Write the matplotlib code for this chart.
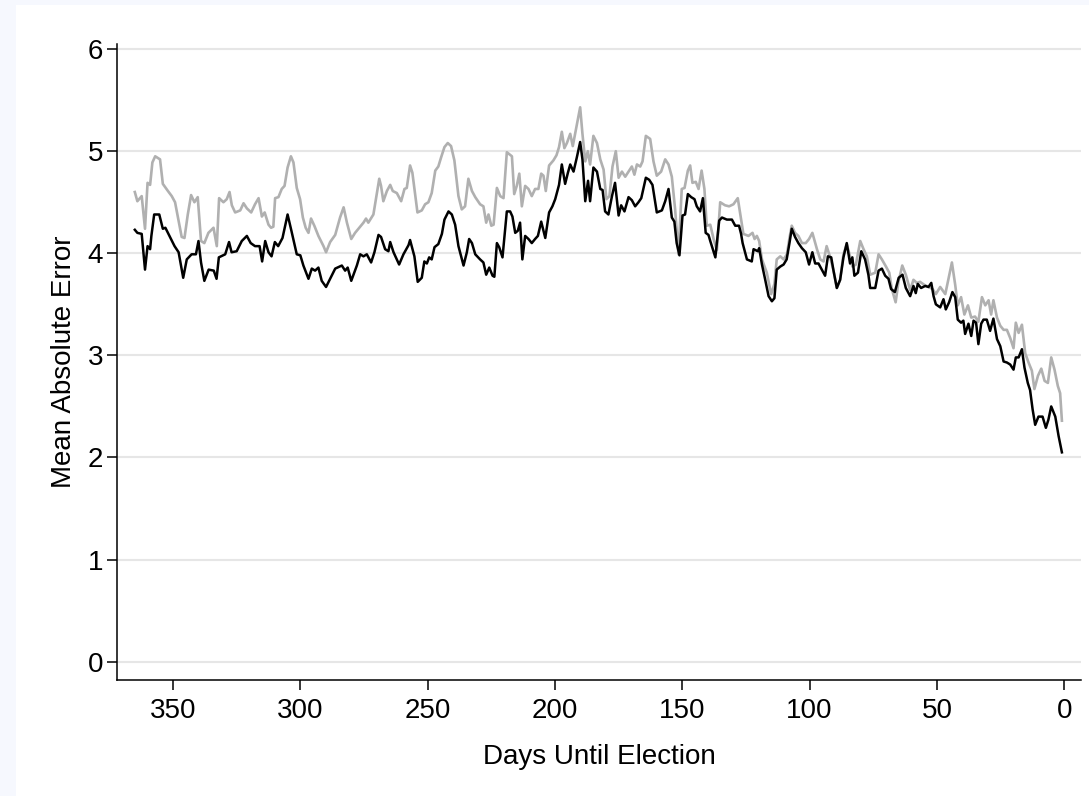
import matplotlib
matplotlib.use("Agg")
import matplotlib.pyplot as plt
from matplotlib.patches import Rectangle

# values (days until election, mean absolute error)
days_black = [365, 364, 362.3, 361, 360, 359, 358.5, 357.4, 355.4, 354, 353, 351.4, 349.4, 347.8, 346, 344.6,
              342.7, 341, 340, 339, 337.7, 336, 334, 332.9, 332, 329.5, 328, 327, 325, 323, 321, 319.5,
              317.8, 316, 315, 313.8, 312.5, 311.3, 310, 308.7, 307, 305, 303.5, 301.4, 300, 298.8, 296.8,
              295.5, 294.2, 292.9, 291.6, 289.9, 288.3, 286.3, 283.7, 282.4, 281.4, 280, 277.8, 276.5, 275.2,
              273.9, 272.2, 270.9, 269.3, 268.3, 266.7, 265.4, 264.7, 263.4, 261.2, 259.5, 257.5, 256.9,
              255.2, 253.9, 252.3, 251.3, 250.3, 249.4, 248.4, 247.3, 245.8, 244.4, 243.4, 241.8, 240.5,
              239.2, 237.9, 235.9, 234.6, 233.7, 232.6, 231.3, 229.4, 228.1, 227, 225.8, 224.5, 223.8, 222.8,
              221.9, 220.6, 218.9, 217.6, 216.7, 215.6, 214.6, 213.7, 212.8, 211.7, 210.4, 209.1, 207.8,
              206.7, 205.4, 203.8, 202.3, 201, 199.9, 198.4, 197.3, 196, 194.9, 194, 192.7, 191.4, 190.1,
              189.2, 188.1, 187, 186.2, 184.9, 183.5, 182.2, 181.3, 180.3, 179, 177.6, 176.4, 175, 174,
              172.7, 171.1, 169.8, 168.5, 167.2, 166.1, 164.3, 163, 161.7, 160, 158, 156.7, 155.4, 154.1,
              153.1, 152.2, 151.1, 149.9, 148.9, 147.8, 146.5, 145.2, 144.3, 143, 141.9, 140.8, 139.7, 139,
              137, 135.5, 134.4, 132.5, 130.5, 129.2, 127.7, 126.9, 126.3, 124.6, 122.7, 122, 120.3, 119.8,
              118.7, 117.5, 116.1, 114.8, 113.8, 112.9, 111.5, 110.2, 109, 107.9, 107, 105.7, 104.4, 103,
              101.5, 100.2, 98.9, 97.8, 96.5, 95.2, 93.9, 92.8, 91.5, 90.6, 89.3, 88, 86.7, 85.4, 84.1, 83.2,
              82.4, 81, 79.7, 78.2, 76.9, 76.2, 74.2, 72.9, 71.6, 70.3, 69, 68, 66.5, 65, 63.5, 62.2, 60.5,
              59.2, 58.3, 57.5, 56.2, 54.6, 53.3, 52.2, 51.3, 50.4, 48.7, 47.4, 46.5, 45.2, 43.9, 42.8, 41.8,
              40.5, 39.6, 38.9, 37.6, 36.5, 35.6, 34.6, 33.7, 32.6, 31.7, 30.4, 29.1, 27.8, 26.4, 25.1, 23.8,
              22.5, 21.2, 19.9, 19, 17.9, 16.6, 15.6, 14.3, 13.4, 12.4, 11.4, 10.1, 8.5, 7.2, 6.2, 5.1, 3.5,
              2.2, 0.9]
mae_black = [4.23, 4.20, 4.19, 3.84, 4.07, 4.04, 4.17, 4.38, 4.38, 4.24, 4.25, 4.17, 4.07, 4.01, 3.76, 3.94,
             3.99, 3.99, 4.12, 3.91, 3.73, 3.84, 3.83, 3.75, 3.96, 3.99, 4.11, 4.01, 4.02, 4.12, 4.17, 4.10,
             4.07, 4.07, 3.92, 4.12, 4.01, 3.97, 4.11, 4.07, 4.15, 4.38, 4.22, 3.99, 3.98, 3.88, 3.75,
             3.85, 3.83, 3.86, 3.73, 3.67, 3.75, 3.85, 3.88, 3.83, 3.86, 3.73, 3.88, 3.99, 3.97,
             3.99, 3.91, 4.01, 4.18, 4.16, 4.04, 4.02, 4.11, 4.01, 3.89, 3.99, 4.08, 4.13,
             3.97, 3.72, 3.76, 3.92, 3.90, 3.96, 3.94, 4.06, 4.09, 4.19, 4.33, 4.41, 4.38,
             4.28, 4.07, 3.88, 4.01, 4.14, 4.10, 3.99, 3.94, 3.91, 3.79, 3.86, 3.78, 3.77, 4.10,
             4.06, 3.96, 4.41, 4.41, 4.36, 4.20, 4.22, 4.30, 3.94, 4.17, 4.14, 4.10, 4.14,
             4.17, 4.31, 4.15, 4.40, 4.46, 4.53, 4.67, 4.87, 4.68, 4.79, 4.87, 4.80, 4.94, 5.09,
             4.92, 4.51, 4.71, 4.51, 4.84, 4.80, 4.63, 4.62, 4.41, 4.38, 4.56, 4.69, 4.37, 4.47,
             4.41, 4.55, 4.52, 4.46, 4.50, 4.54, 4.74, 4.72, 4.67, 4.40, 4.42, 4.51, 4.63, 4.35,
             4.31, 4.10, 3.98, 4.37, 4.38, 4.58, 4.55, 4.53, 4.46, 4.41, 4.54, 4.20, 4.18, 4.12,
             3.96, 4.32, 4.35, 4.33, 4.33, 4.27, 4.27, 4.19, 4.10, 3.94, 3.92, 4.04, 4.02, 4.05,
             3.89, 3.75, 3.58, 3.53, 3.56, 3.84, 3.87, 3.89, 3.94, 4.10, 4.24, 4.16, 4.10, 4.05,
             4.01, 3.89, 4.01, 3.90, 3.90, 3.84, 3.78, 3.97, 3.96, 3.83, 3.66, 3.74, 3.96, 4.10, 3.90, 3.96,
             3.78, 3.81, 4.02, 3.94, 3.79, 3.66, 3.66, 3.83, 3.85, 3.78, 3.75, 3.65, 3.62, 3.76, 3.79, 3.66, 3.58,
             3.68, 3.61, 3.70, 3.66, 3.68, 3.67, 3.71, 3.58, 3.50, 3.47, 3.55, 3.45, 3.52, 3.62, 3.57, 3.35,
             3.32, 3.34, 3.21, 3.31, 3.19, 3.34, 3.32, 3.11, 3.31, 3.35, 3.35, 3.24, 3.36, 3.16, 3.09, 2.94,
             2.93, 2.91, 2.86, 2.98, 2.98, 3.06, 2.88, 2.73, 2.66, 2.47, 2.32, 2.40, 2.40, 2.29, 2.37, 2.50, 2.40,
             2.21, 2.05]

days_gray = [365, 364, 362.3, 361, 360, 359, 358.1, 357, 355.1, 354, 352, 350.5, 349.2, 347.9, 346.6, 345.5,
             344.2, 342.9, 341.6, 340.3, 339, 337.7, 336.1, 334.1, 332.8, 331.9, 330.2, 328.9, 327.8, 326.9,
             325.6, 323.6, 322.3, 321, 319.3, 317.8, 316.4, 315.1, 314, 312.5, 311.5, 310.6, 309.9, 308.6,
             307.3, 306.2, 305, 303.7, 302.7, 301.4, 300.1, 299, 297.9, 296.8, 295.8, 294.5, 292.9, 290.9,
             289.9, 288.3, 286.3, 284.4, 283, 281.7, 280, 278.5, 276.5, 275.2, 274.2, 273.3, 271.3, 270.3,
             269, 268.3, 267.4, 266, 264.7, 263.7, 262.1, 260.4, 259.1, 258.2, 256.9, 256, 254, 252.3, 251,
             249.7, 248.4, 247, 245.8, 244.7, 243.4, 242.1, 240.8, 239.5, 237.9, 236.6, 235.3, 234, 232.6,
             231.3, 229.4, 228.1, 227, 226.1, 225, 224.1, 222.8, 221.5, 220.2, 218.9, 216.9, 216, 215, 214,
             213, 211.7, 210.4, 209.1, 207.8, 206.5, 205.4, 204.5, 203.6, 202.3, 200.6, 199.4, 198.4, 197.3,
             196.3, 195.3, 194, 193, 191.4, 190.1, 189.2, 188.1, 187.1, 186.2, 184.9, 183.5, 182.2, 180.9,
             179.8, 178.6, 177.4, 176.1, 175, 173.7, 172.4, 171.1, 169.8, 168.8, 167.8, 166.5, 165.6, 164.3,
             162.6, 161.3, 160, 158.3, 156.7, 155.4, 154.1, 152.8, 151.5, 150.2, 149.1, 147.8, 146.9, 146,
             144.7, 143.6, 142.4, 141.3, 140.4, 139, 137.7, 136.4, 135.1, 133.2, 131.6, 129.9, 128.2, 127,
             126, 124, 122.4, 121.6, 120.7, 119.8, 118.7, 116.8, 115.1, 113.8, 112.9, 111.5, 110.2, 108.9,
             107.9, 107, 105.7, 104.4, 103, 101.5, 100.2, 98.9, 97.1, 95.8, 94.5, 93.3, 91.9, 90.6, 89.3, 88,
             86.7, 85.4, 84.1, 83.2, 81.8, 80.1, 78.8, 77.5, 76.2, 74.2, 72.9, 71.6, 70, 68.7, 67.7, 66.2,
             65.1, 63.6, 62.2, 60.5, 59.2, 57.9, 56.6, 54.9, 53.3, 51.7, 50.4, 48.7, 46.7, 45.2, 44.1, 42.8,
             41.8, 40.5, 39.2, 37.8, 36.5, 35, 33.7, 32.3, 31, 29.7, 28.7, 27.8, 26.4, 25.1, 23.8, 22.5, 21.2,
             19.9, 19, 17.9, 16.6, 15.3, 14, 12.7, 11.7, 10.3, 9, 7.7, 6.4, 5.1, 3.8, 2.5, 1.6, 0.9]
mae_gray = [4.60, 4.51, 4.56, 4.24, 4.69, 4.67, 4.89, 4.95, 4.92, 4.68, 4.61, 4.56, 4.50, 4.33, 4.16, 4.15,
            4.38, 4.57, 4.50, 4.55, 4.12, 4.10, 4.20, 4.25, 4.07, 4.54, 4.50, 4.53, 4.60, 4.47,
            4.40, 4.42, 4.49, 4.44, 4.40, 4.48, 4.54, 4.36, 4.40, 4.28, 4.25, 4.26, 4.54, 4.55,
            4.63, 4.66, 4.84, 4.95, 4.89, 4.64, 4.53, 4.35, 4.25, 4.20, 4.34, 4.27, 4.17, 4.07,
            4.01, 4.11, 4.18, 4.35, 4.45, 4.30, 4.14, 4.20, 4.26, 4.30, 4.34, 4.30, 4.38, 4.53,
            4.73, 4.66, 4.51, 4.61, 4.67, 4.61, 4.59, 4.51, 4.63, 4.64, 4.86, 4.79, 4.40, 4.42, 4.48,
            4.50, 4.59, 4.81, 4.85, 4.94, 5.04, 5.08, 5.05, 4.91, 4.56, 4.43, 4.46, 4.73, 4.61,
            4.55, 4.48, 4.46, 4.30, 4.38, 4.27, 4.28, 4.64, 4.56, 4.54, 4.99, 4.95, 4.58, 4.66, 4.78,
            4.46, 4.66, 4.63, 4.56, 4.63, 4.63, 4.78, 4.76, 4.61, 4.86, 4.91, 4.96, 5.04, 5.19,
            5.03, 5.08, 5.17, 5.05, 5.26, 5.43, 5.17, 4.90, 5.00, 4.87, 5.15, 5.08, 4.92, 4.82,
            4.53, 4.56, 4.85, 5.00, 4.74, 4.80, 4.75, 4.80, 4.85, 4.77, 4.87, 4.85, 4.90, 5.15,
            5.12, 4.90, 4.76, 4.80, 4.92, 4.87, 4.75, 4.43, 3.99, 4.63, 4.64, 4.81, 4.86, 4.69,
            4.70, 4.63, 4.81, 4.63, 4.27, 4.28, 4.14, 4.03, 4.50, 4.47, 4.46, 4.48, 4.54, 4.35,
            4.19, 4.17, 4.20, 4.14, 4.17, 4.12, 3.94, 3.81, 3.60, 3.70, 3.94, 3.97, 3.94, 3.99,
            4.15, 4.27, 4.20, 4.17, 4.10, 4.10, 4.14, 4.20, 4.04, 3.94, 3.92, 4.07, 3.96, 3.83, 3.66, 3.74,
            3.99, 4.09, 3.97, 3.87, 3.89, 4.12, 4.04, 3.97, 3.79, 3.81, 3.99, 3.94, 3.87, 3.81, 3.65, 3.52,
            3.72, 3.88, 3.79, 3.64, 3.74, 3.71, 3.72, 3.69, 3.67, 3.65, 3.60, 3.67, 3.60, 3.78, 3.91, 3.69,
            3.49, 3.57, 3.40, 3.49, 3.37, 3.38, 3.33, 3.57, 3.49, 3.54, 3.40, 3.54, 3.37, 3.29, 3.25, 3.25, 3.17,
            3.07, 3.32, 3.22, 3.30, 3.02, 2.93, 2.85, 2.67, 2.80, 2.87, 2.75, 2.73, 2.98, 2.86, 2.70, 2.63, 2.36]

x_ticks = [350, 300, 250, 200, 150, 100, 50, 0]
y_ticks = [0, 1, 2, 3, 4, 5, 6]

plt.rcParams['font.family'] = ['Liberation Sans', 'DejaVu Sans']

fig = plt.figure(figsize=(10.89, 7.96), dpi=100)
fig.patch.set_facecolor('#f6f8fe')
# white page area, pale band left and top as in the reference
page = Rectangle((16 / 1089, 0), 1, 1 - 5 / 796, transform=fig.transFigure,
                 facecolor='white', edgecolor='none', zorder=-10)
fig.add_artist(page)

ax = fig.add_axes([117 / 1089, 1 - 680 / 796, (1081 - 117) / 1089, (680 - 44) / 796])
ax.set_zorder(1)
ax.set_facecolor('white')

ax.plot(days_gray, mae_gray, color='#b0b0b0', lw=1.9, zorder=2)
ax.plot(days_black, mae_black, color='black', lw=1.8, zorder=3)

ax.set_xlim(372, -6.6)
ax.set_ylim(-0.18, 6.05)
ax.set_xticks(x_ticks)
ax.set_yticks(y_ticks)
ax.yaxis.grid(True, color='#e6e6e6', lw=1.5)
ax.set_axisbelow(True)

for s in ['top', 'right']:
    ax.spines[s].set_visible(False)
for s in ['left', 'bottom']:
    ax.spines[s].set_linewidth(1.1)

ax.tick_params(axis='both', direction='out', length=7, width=1.1, labelsize=20)
ax.tick_params(axis='x', pad=6)
ax.tick_params(axis='y', pad=3)

ax.set_xlabel('Days Until Election', fontsize=20)
ax.set_ylabel('Mean Absolute Error', fontsize=20)
ax.xaxis.set_label_coords(0.5, -0.1)
ax.yaxis.set_label_coords(-0.042, 0.5)

fig.savefig('out.png', dpi=100, facecolor=fig.get_facecolor())
